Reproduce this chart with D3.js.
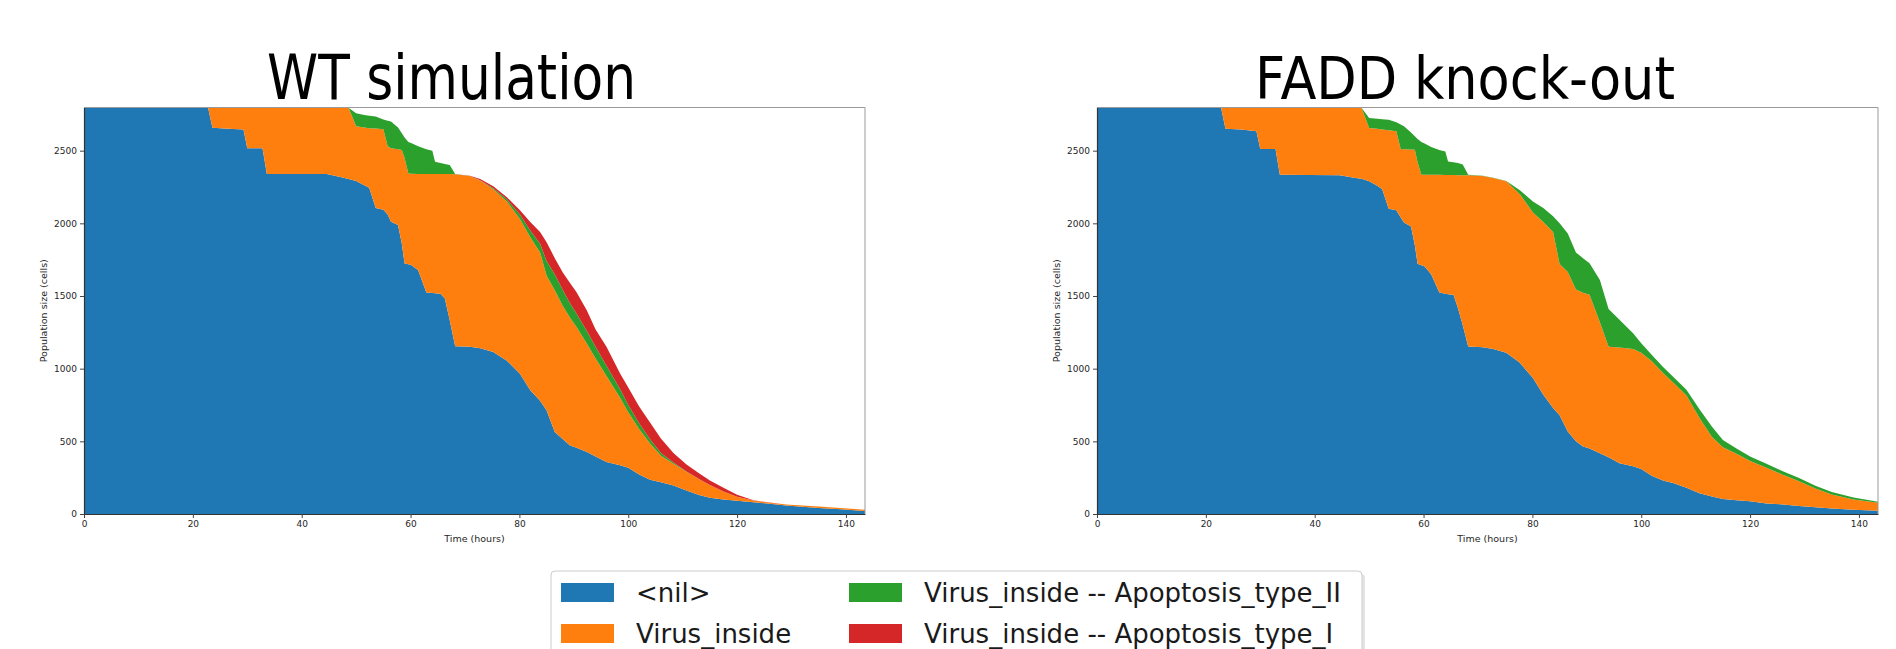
<!DOCTYPE html>
<html>
<head>
<meta charset="utf-8">
<script src="https://cdn.jsdelivr.net/npm/d3@7"></script>
<style>
  body { margin: 0; background: #fff; }
  svg text { font-family: "DejaVu Sans", sans-serif; }
</style>
</head>
<body>
<svg id="fig" width="1896" height="649"></svg>
<script>
// states, in stacking order (bottom to top)
const categories = ['<nil>', 'Virus_inside', 'Virus_inside -- Apoptosis_type_II', 'Virus_inside -- Apoptosis_type_I'];
const colors = ['#1f77b4', '#ff7f0e', '#2ca02c', '#d62728'];
const titles = ['WT simulation', 'FADD knock-out'];
const xTicks = [0, 20, 40, 60, 80, 100, 120, 140];
const yTicks = [0, 500, 1000, 1500, 2000, 2500];

// sample times (hours)
const times = [0, 22.8, 23.6, 26.5, 29.3, 30.0, 32.8, 33.6, 44.6, 47.5, 48.6, 50.0, 51.5, 52.4, 53.6, 55.0,
  55.8, 56.4, 57.7, 58.4, 58.9, 59.6, 60.2, 61.4, 62.9, 64.0, 64.5, 65.5, 66.3, 67.2, 68.2, 70.9,
  72.8, 75.2, 77.7, 80.1, 82.0, 83.8, 85.0, 86.5, 88.0, 89.3, 90.5, 92.4, 94.0, 96.0, 98.5, 100.0,
  102.0, 104.0, 106.0, 108.3, 110.7, 113.0, 115.0, 117.5, 120.0, 123.0, 126.0, 129.0, 132.0, 135.0, 139.0, 143.5];

// WT simulation (cells per state)
const wtNil = [2795, 2795, 2658, 2650, 2645, 2516, 2516, 2339, 2339, 2316, 2305, 2292, 2262, 2245, 2105, 2093,
  2060, 2011, 1988, 1860, 1724, 1718, 1712, 1678, 1524, 1520, 1519, 1515, 1483, 1333, 1154, 1150,
  1140, 1115, 1055, 965, 851, 780, 713, 564, 515, 472, 455, 426, 395, 357, 335, 318,
  272, 235, 218, 196, 162, 130, 112, 100, 91, 81, 70, 59, 50, 42, 32, 20];
const wtVirus = [0, 0, 137, 145, 150, 279, 279, 456, 456, 479, 490, 376, 398, 410, 547, 554,
  470, 505, 522, 645, 726, 625, 629, 662, 816, 820, 821, 825, 856, 1006, 1184, 1175,
  1155, 1120, 1095, 1065, 1054, 1020, 927, 976, 915, 878, 832, 746, 675, 593, 465, 382,
  313, 250, 182, 150, 128, 110, 88, 55, 27, 12, 8, 6, 8, 9, 10, 9];
const wtApoII = [0, 0, 0, 0, 0, 0, 0, 0, 0, 0, 0, 89, 85, 85, 83, 68,
  175, 184, 150, 114, 140, 217, 210, 190, 170, 160, 84, 75, 69, 62, 2, 0,
  2, 7, 15, 30, 45, 60, 100, 110, 110, 100, 93, 88, 80, 70, 60, 50,
  40, 30, 20, 9, 3, 0, 0, 0, 0, 0, 0, 0, 0, 0, 0, 0];
const wtApoI = [0, 0, 0, 0, 0, 0, 0, 0, 0, 0, 0, 0, 0, 0, 0, 0,
  0, 0, 0, 0, 0, 0, 0, 0, 0, 0, 0, 0, 0, 0, 0, 3,
  8, 13, 15, 30, 60, 80, 130, 110, 120, 140, 145, 140, 120, 130, 106, 120,
  115, 115, 100, 65, 47, 40, 30, 25, 14, 2, 1, 1, 0, 0, 0, 0];

// FADD knock-out
const koNil = [2795, 2795, 2651, 2645, 2633, 2511, 2511, 2335, 2330, 2312, 2306, 2290, 2258, 2235, 2100, 2090,
  2040, 2006, 1979, 1850, 1722, 1712, 1703, 1650, 1524, 1515, 1512, 1508, 1420, 1300, 1152, 1148,
  1135, 1110, 1040, 935, 820, 730, 680, 567, 500, 464, 450, 418, 390, 349, 328, 310,
  262, 230, 212, 180, 142, 120, 104, 95, 87, 73, 66, 55, 47, 37, 30, 23];
const koVirus = [0, 0, 144, 150, 162, 284, 284, 460, 465, 483, 489, 366, 392, 410, 540, 543,
  471, 504, 529, 657, 698, 623, 632, 685, 810, 818, 821, 824, 911, 1030, 1178, 1178,
  1177, 1179, 1160, 1140, 1190, 1210, 1040, 1098, 1045, 1058, 1058, 902, 760, 796, 807, 800,
  788, 740, 688, 635, 518, 410, 356, 320, 278, 245, 204, 170, 128, 98, 70, 55];
const koApoII = [0, 0, 0, 0, 0, 0, 0, 0, 0, 0, 0, 69, 70, 71, 72, 62,
  169, 158, 117, 93, 160, 225, 215, 190, 171, 162, 92, 88, 84, 75, 5, 2,
  2, 3, 28, 75, 95, 108, 280, 265, 255, 238, 217, 290, 260, 191, 109, 65,
  42, 42, 40, 40, 60, 70, 50, 35, 30, 27, 24, 22, 20, 17, 13, 7];
const koApoI = [0, 0, 0, 0, 0, 0, 0, 0, 0, 0, 0, 0, 0, 0, 0, 0,
  0, 0, 0, 0, 0, 0, 0, 0, 0, 0, 0, 0, 0, 0, 0, 0,
  0, 0, 0, 0, 0, 0, 0, 0, 0, 0, 0, 0, 0, 0, 0, 0,
  0, 0, 0, 0, 0, 0, 0, 0, 0, 0, 0, 0, 0, 0, 0, 0];

const svg = d3.select('#fig');

function drawPanel(left, title, titleX, titleSize, titleLen, series) {
  const width = 781;
  const top = 107.5, bottom = 514;

  const x = d3.scaleLinear().domain([0, 143.5]).range([left, left + width]);
  const y = d3.scaleLinear().domain([0, 2797]).range([bottom, top]);

  const rows = times.map((t, i) => {
    const r = {t: t};
    categories.forEach((c, k) => { r[c] = series[k][i]; });
    return r;
  });
  const stacked = d3.stack().keys(categories)(rows);

  const area = d3.area()
    .x(d => x(d.data.t))
    .y0(d => y(d[0]))
    .y1(d => y(d[1]));

  const g = svg.append('g');
  g.selectAll('path.layer')
    .data(stacked)
    .enter()
    .append('path')
    .attr('class', 'layer')
    .attr('fill', (d, i) => colors[i])
    .attr('d', area);

  // top and right spines (light)
  g.append('path')
    .attr('d', `M${left},${top}H${left + width}V${bottom}`)
    .attr('fill', 'none')
    .attr('stroke', '#9a9a9a')
    .attr('stroke-width', 1);

  const yAxis = g.append('g')
    .attr('transform', `translate(${left},0)`)
    .call(d3.axisLeft(y).tickValues(yTicks).tickFormat(d3.format('d'))
      .tickSize(4).tickPadding(3).tickSizeOuter(0));
  const xAxis = g.append('g')
    .attr('transform', `translate(0,${bottom})`)
    .call(d3.axisBottom(x).tickValues(xTicks).tickFormat(d3.format('d'))
      .tickSize(4).tickPadding(3).tickSizeOuter(0));

  [yAxis, xAxis].forEach(a => {
    a.select('.domain').attr('stroke', '#333').attr('stroke-width', 1.2);
    a.selectAll('.tick line').attr('stroke', '#444');
    a.selectAll('.tick text').attr('fill', '#262626').style('font-size', '9px');
  });

  g.append('text')
    .attr('x', left + width / 2)
    .attr('y', 541.5)
    .attr('text-anchor', 'middle')
    .attr('fill', '#262626')
    .style('font-size', '9.5px')
    .text('Time (hours)');

  g.append('text')
    .attr('transform', `translate(${left - 37},${(top + bottom) / 2}) rotate(-90)`)
    .attr('text-anchor', 'middle')
    .attr('fill', '#262626')
    .style('font-size', '9.5px')
    .text('Population size (cells)');

  g.append('text')
    .attr('x', titleX)
    .attr('y', 99)
    .attr('textLength', titleLen)
    .attr('lengthAdjust', 'spacingAndGlyphs')
    .attr('fill', '#000')
    .style('font-size', titleSize + 'px')
    .text(title);
}

drawPanel(84, titles[0], 267, 62, 369, [wtNil, wtVirus, wtApoII, wtApoI]);
drawPanel(1097, titles[1], 1255, 59, 420, [koNil, koVirus, koApoII, koApoI]);

// legend (two columns, cut by the bottom edge)
const leg = svg.append('g');
leg.append('rect')
  .attr('x', 554).attr('y', 574).attr('width', 811).attr('height', 100)
  .attr('rx', 4).attr('fill', '#e4e4e4');
leg.append('rect')
  .attr('x', 551).attr('y', 571).attr('width', 811).attr('height', 100)
  .attr('rx', 4).attr('fill', '#fff').attr('stroke', '#cccccc').attr('stroke-width', 1);

const colX = [561, 849];
const rowY = [583, 624];
categories.forEach((c, i) => {
  const cx = colX[Math.floor(i / 2)];
  const cy = rowY[i % 2];
  leg.append('rect')
    .attr('x', cx).attr('y', cy).attr('width', 53).attr('height', 19)
    .attr('fill', colors[i]);
  leg.append('text')
    .attr('x', cx + 75).attr('y', cy + 18.5)
    .attr('fill', '#1a1a1a')
    .style('font-size', '26px')
    .text(c);
});
</script>
</body>
</html>
